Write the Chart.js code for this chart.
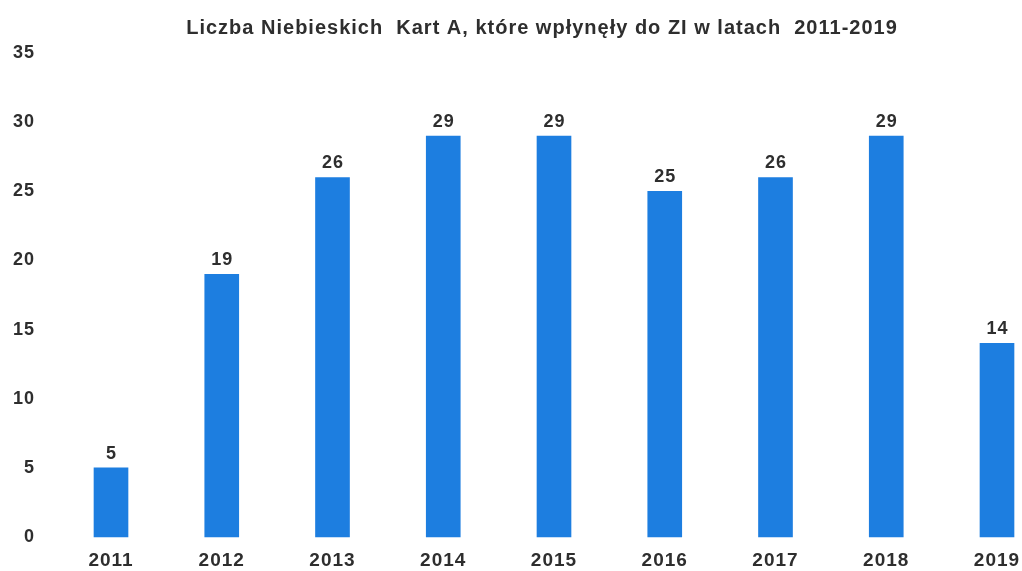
<!DOCTYPE html>
<html>
<head>
<meta charset="utf-8">
<script src="https://cdn.jsdelivr.net/npm/chart.js@4"></script>
<style>
  html, body { margin: 0; padding: 0; background: #fff; overflow: hidden; }
  #wrap { position: relative; width: 1022px; height: 571px; }
</style>
</head>
<body>
<div id="wrap"><canvas id="chart1"></canvas></div>
<script>
// dane z wykresu
const years = ['2011', '2012', '2013', '2014', '2015', '2016', '2017', '2018', '2019'];
const cards = [5, 19, 26, 29, 29, 25, 26, 29, 14];
const titleText = 'Liczba Niebieskich  Kart A, które wpłynęły do ZI w latach  2011-2019';

const barColor = '#1d7ee0';
const textColor = '#2e2e2e';
const fontFamily = '"Liberation Sans", Arial, sans-serif';

// szerszy odstęp liter, jak w skanie
const wideText = {
  id: 'wideText',
  afterLayout(chart) {
    // tytuł lekko w lewo względem obszaru wykresu
    if (chart.titleBlock) chart.titleBlock.left -= 24;
  },
  beforeDraw(chart) {
    chart.ctx.letterSpacing = '1px';
  }
};

// etykiety wartości nad słupkami
const valueLabels = {
  id: 'valueLabels',
  afterDatasetsDraw(chart) {
    const ctx = chart.ctx;
    const meta = chart.getDatasetMeta(0);
    ctx.save();
    ctx.font = 'bold 18px ' + fontFamily;
    ctx.fillStyle = textColor;
    ctx.textAlign = 'center';
    ctx.textBaseline = 'alphabetic';
    meta.data.forEach((bar, i) => {
      ctx.fillText(String(cards[i]), bar.x + 0.5, bar.y - 9);
    });
    ctx.restore();
  }
};

const ctx = document.getElementById('chart1').getContext('2d');
new Chart(ctx, {
  type: 'bar',
  data: {
    labels: years,
    datasets: [{
      data: cards,
      backgroundColor: barColor,
      borderWidth: 0,
      barThickness: 34,
      clip: false
    }]
  },
  options: {
    responsive: true,
    maintainAspectRatio: false,
    animation: false,
    layout: { padding: { left: 0, right: 25, top: 0, bottom: 0 } },
    plugins: {
      legend: { display: false },
      tooltip: { enabled: false },
      title: {
        display: true,
        text: titleText,
        fullSize: false,
        color: textColor,
        font: { family: fontFamily, size: 20, weight: 'bold' },
        padding: { top: 16, bottom: 13 }
      }
    },
    scales: {
      x: {
        offset: false,
        grid: { display: false, drawTicks: false },
        border: { display: false },
        ticks: {
          color: textColor,
          padding: 12,
          font: { family: fontFamily, size: 19, weight: 'bold' }
        },
        afterFit: (scale) => {
          scale.height = 34;
          scale.paddingLeft = 0;
          scale.paddingRight = 0;
        }
      },
      y: {
        min: 0,
        max: 35,
        grid: { display: false, drawTicks: false },
        border: { display: false },
        ticks: {
          stepSize: 5,
          color: textColor,
          padding: 76,
          font: { family: fontFamily, size: 18, weight: 'bold' }
        },
        afterFit: (scale) => {
          scale.width = 111;
          scale.paddingTop = 10;
          scale.paddingBottom = 10;
        }
      }
    }
  },
  plugins: [wideText, valueLabels]
});
</script>
</body>
</html>
